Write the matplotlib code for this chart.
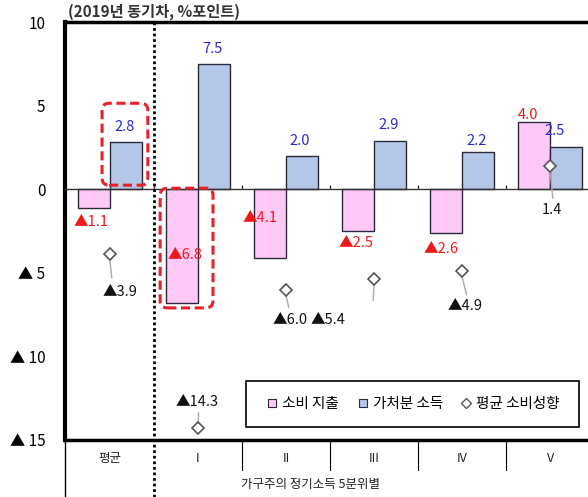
import matplotlib
matplotlib.use("Agg")
import matplotlib.pyplot as plt
from matplotlib.patches import FancyBboxPatch, Rectangle
from matplotlib.lines import Line2D

plt.rcParams["font.family"] = ["Noto Sans CJK KR", "DejaVu Sans"]

# 카테고리와 값 (2019년 동기차, %포인트)
categories = ["평균", "I", "II", "III", "IV", "V"]
spending = [-1.1, -6.8, -4.1, -2.5, -2.6, 4.0]      # 소비 지출
disposable = [2.8, 7.5, 2.0, 2.9, 2.2, 2.5]        # 가처분 소득
propensity = [-3.9, -14.3, -6.0, -5.4, -4.9, 1.4]  # 평균 소비성향
ytick_values = [10, 5, 0, -5, -10, -15]
ytick_labels = ["10", "5", "0", "▲ 5", "▲ 10", "▲ 15"]


def fmt(v):
    return f"▲{abs(v):.1f}" if v < 0 else f"{v:.1f}"


PINK = "#FFC9F6"
BLUE = "#B4C7E7"
EDGE = "#2a2a3a"
RED = "#F01818"
NAVY = "#2B2BC8"

# 라벨 위치 (카테고리 중심 기준 x 오프셋, y)
red_pos = [(-0.22, -1.97), (-0.15, -3.95), (-0.30, -1.73), (-0.20, -3.2), (-0.24, -3.6), (-0.25, 4.45)]
blue_pos = [(0.16, 3.7), (0.16, 8.4), (0.16, 2.9), (0.16, 3.85), (0.16, 2.9), (0.05, 3.5)]
dia_label_pos = [(0.11, -6.16), (-0.01, -12.74), (0.05, -7.83), (-0.52, -7.83), (0.03, -7.0), (0.02, -1.26)]
dia_line_end = [(0.02, -5.3), (0.0, -13.34), (0.03, -7.06), (-0.01, -6.64), (0.05, -6.3), (0.03, -0.54)]

fig = plt.figure(figsize=(5.88, 4.97), dpi=100)
ax = fig.add_axes([65 / 588, 57 / 497, 523 / 588, 418 / 497])

x = list(range(len(categories)))
w = 0.365
ax.bar([i - w / 2 for i in x], spending, w, color=PINK, edgecolor=EDGE, linewidth=1, zorder=2)
ax.bar([i + w / 2 for i in x], disposable, w, color=BLUE, edgecolor=EDGE, linewidth=1, zorder=2)
ax.axhline(0, color="#333333", lw=1, zorder=3)
ax.vlines([0.5, 1.5, 2.5, 3.5, 4.5], 0, 0.25, color="#333333", lw=1, zorder=3)

# 평균 소비성향: 마름모 + 지시선
for i, v in enumerate(propensity):
    lx, ly = dia_line_end[i]
    start = v + 0.35 if ly > v else v - 0.35
    ax.plot([i, i + lx], [start, ly], color="#aaaaaa", lw=1, zorder=3)
    ax.plot(i, v, marker="D", ms=6.5, mfc="white", mec="#555555", mew=1.2, zorder=5)
    tx, ty = dia_label_pos[i]
    ax.text(i + tx, ty, fmt(v), ha="center", va="center", fontsize=10.5, color="#111111", zorder=6)

for i in x:
    rx, ry = red_pos[i]
    ax.text(i + rx, ry, fmt(spending[i]), ha="center", va="center", fontsize=10.5, color=RED, zorder=6)
    bx, by = blue_pos[i]
    ax.text(i + bx, by, fmt(disposable[i]), ha="center", va="center", fontsize=10.5, color=NAVY, zorder=6)

# 강조용 빨간 점선 박스
aspect = 88 / 16.72
for (x0, x1, y0, y1) in [(-0.09, 0.43, 0.24, 5.14), (1 - 0.43, 1 + 0.17, -7.1, 0.06)]:
    ax.add_patch(FancyBboxPatch((x0, y0), x1 - x0, y1 - y0,
                                boxstyle="round,pad=0,rounding_size=0.08",
                                mutation_aspect=aspect, fill=False, ec="#E8202A",
                                lw=2.2, ls=(0, (3, 1.5)), zorder=7))

ax.set_xlim(-0.511, 5.43)
ax.set_ylim(-15, 10)
ax.set_xticks([])
ax.set_yticks(ytick_values)
ax.set_yticklabels(ytick_labels, fontsize=11)
ax.tick_params(axis="y", length=0, pad=14)
ax.spines["right"].set_visible(False)
ax.spines["left"].set_linewidth(3)
ax.spines["top"].set_linewidth(2.5)
ax.spines["bottom"].set_linewidth(2.5)

# 아래쪽 범주 표
ax.plot([0.5, 0.5], [10, -18.5], color="black", lw=2, ls=(0, (1, 1)), clip_on=False, zorder=8)
ax.plot([-0.511, -0.511], [-15, -18.5], color="black", lw=1, clip_on=False)
for b in [1.5, 2.5, 3.5, 4.5]:
    ax.plot([b, b], [-15, -16.8], color="black", lw=0.8, clip_on=False)
for i, c in enumerate(categories):
    ax.text(i, -16.1, c, ha="center", va="center", fontsize=9, color="#222222", clip_on=False)
ax.text(2.28, -17.65, "가구주의 정기소득 5분위별", ha="center", va="center", fontsize=9,
        color="#222222", clip_on=False)

# 범례
ax.add_patch(Rectangle((0.346, 0.031), 0.637, 0.11, transform=ax.transAxes,
                       fc="white", ec="black", lw=1.2, zorder=9))
handles = [
    Line2D([], [], ls="", marker="s", ms=6, mfc=PINK, mec=EDGE, mew=0.8),
    Line2D([], [], ls="", marker="s", ms=6, mfc=BLUE, mec=EDGE, mew=0.8),
    Line2D([], [], ls="", marker="D", ms=5.5, mfc="white", mec="#555555", mew=1),
]
leg = ax.legend(handles, ["소비 지출", "가처분 소득", "평균 소비성향"], ncol=3,
                loc="center left", bbox_to_anchor=(0.36, 0.086), frameon=False,
                fontsize=10.5, handlelength=0.8, handletextpad=0.3, columnspacing=1.2)
leg.set_zorder(10)

fig.text(68 / 588, 1 - 12 / 497, "(2019년 동기차, %포인트)", ha="left", va="center",
         fontsize=11, fontweight="bold", color="#333333")

fig.savefig("out.png", dpi=100)
